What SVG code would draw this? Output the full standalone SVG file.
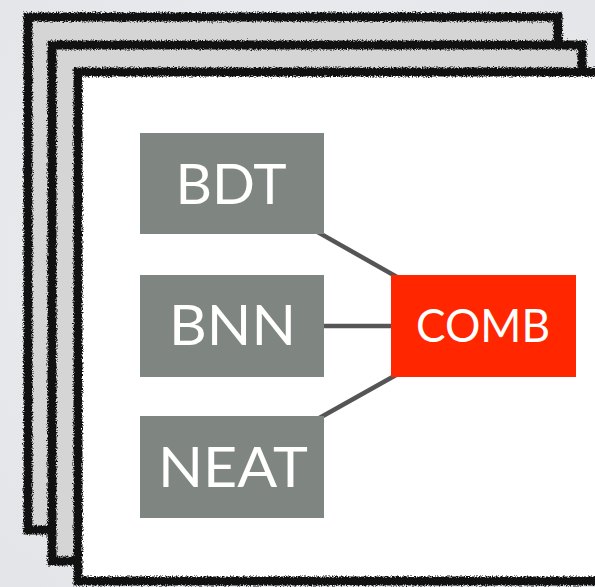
<svg xmlns="http://www.w3.org/2000/svg" width="595" height="587" viewBox="0 0 595 587">
  <defs>
    <radialGradient id="bg" cx="50%" cy="45%" r="75%">
      <stop offset="0" stop-color="#eef0f2"/>
      <stop offset="1" stop-color="#e2e4e8"/>
    </radialGradient>
    <!-- charcoal-like ragged outline for the page edges -->
    <filter id="rough" filterUnits="userSpaceOnUse" x="0" y="0" width="595" height="587" color-interpolation-filters="sRGB">
      <feTurbulence type="fractalNoise" baseFrequency="0.8" numOctaves="2" seed="7" result="noise"/>
      <feDisplacementMap in="SourceGraphic" in2="noise" scale="5" xChannelSelector="R" yChannelSelector="G"/>
    </filter>
    <style>
      .sheet { fill: #d5d5d5; }
      .sheet-front { fill: #ffffff; }
      .edge-core { fill: none; stroke: #111111; stroke-width: 6; }
      .edge { fill: none; stroke: #111111; stroke-width: 9; }
      .box { fill: #7f8581; }
      .comb { fill: #ff2600; }
      .label { font-family: Lato, "Open Sans", "DejaVu Sans", sans-serif; fill: #ffffff; text-anchor: middle; }
      .big { font-size: 57px; }
      .small { font-size: 46px; }
      .link { stroke: #555555; stroke-width: 4.5; fill: none; }
    </style>
  </defs>

  <rect width="595" height="587" fill="url(#bg)"/>

  <!-- stacked sheets, back to front -->
  <rect class="sheet" x="28" y="17" width="530" height="513"/>
  <rect class="edge-core" x="28" y="17" width="530" height="513"/>
  <g filter="url(#rough)"><rect class="edge" x="28" y="17" width="530" height="513"/></g>

  <rect class="sheet" x="52" y="45" width="530" height="516"/>
  <rect class="edge-core" x="52" y="45" width="530" height="516"/>
  <g filter="url(#rough)"><rect class="edge" x="52" y="45" width="530" height="516"/></g>

  <rect class="sheet-front" x="78" y="72" width="542" height="509"/>
  <rect class="edge-core" x="78" y="72" width="542" height="509"/>
  <g filter="url(#rough)"><rect class="edge" x="78" y="72" width="542" height="509"/></g>

  <g id="connectors">
    <line class="link" x1="232" y1="183.5" x2="483.5" y2="326"/>
    <line class="link" x1="232" y1="326" x2="483.5" y2="326"/>
    <line class="link" x1="232" y1="467" x2="483.5" y2="326"/>
  </g>

  <g id="bdt">
    <rect class="box" x="140" y="133" width="184" height="101"/>
    <text class="label big" x="231" y="204" textLength="111" lengthAdjust="spacingAndGlyphs">BDT</text>
  </g>
  <g id="bnn">
    <rect class="box" x="140" y="275" width="184" height="102"/>
    <text class="label big" x="232.5" y="345" textLength="127" lengthAdjust="spacingAndGlyphs">BNN</text>
  </g>
  <g id="neat">
    <rect class="box" x="140" y="416" width="184" height="102"/>
    <text class="label big" x="233" y="487" textLength="150" lengthAdjust="spacingAndGlyphs">NEAT</text>
  </g>
  <g id="comb">
    <rect class="comb" x="391" y="275" width="185" height="102"/>
    <text class="label small" x="483" y="342" textLength="134" lengthAdjust="spacingAndGlyphs">COMB</text>
  </g>
</svg>
